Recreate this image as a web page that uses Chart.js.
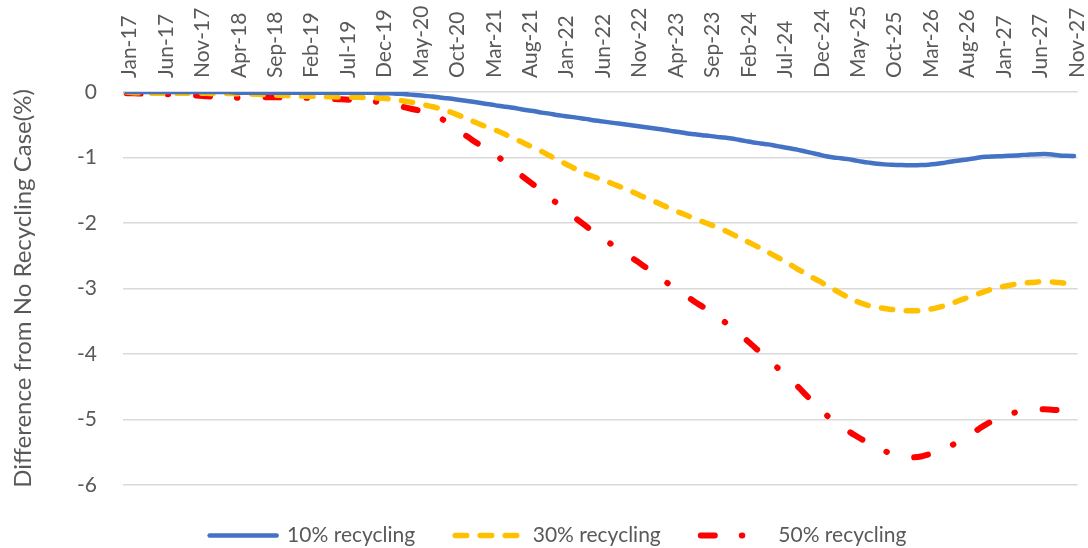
<!DOCTYPE html>
<html>
<head>
<meta charset="utf-8">
<script src="https://cdn.jsdelivr.net/npm/chart.js@4/dist/chart.umd.min.js"></script>
<style>
  html, body { margin: 0; padding: 0; background: #ffffff; }
  #c { display: block; }
</style>
</head>
<body>
<canvas id="c" width="1088" height="548"></canvas>
<script>
// Monthly categories, Jan-17 through Nov-27
const monthNames = ['Jan','Feb','Mar','Apr','May','Jun','Jul','Aug','Sep','Oct','Nov','Dec'];
const categories = [];
for (let k = 0; k < 131; k++) {
  const yy = 17 + Math.floor(k / 12);
  categories.push(monthNames[k % 12] + '-' + yy);
}
// every fifth month carries a tick label
const tickEvery = 5;

const yTicks = [0, -1, -2, -3, -4, -5, -6];

const recycling10 = [
  0, 0, 0, 0, 0, 0, 0, 0, 0, 0,
  0, 0, 0, 0, 0, -0.01, -0.01, -0.01, -0.01, -0.01,
  -0.01, -0.01, -0.01, -0.01, -0.01, -0.01, -0.01, -0.01, -0.01, -0.01,
  -0.01, -0.01, -0.01, -0.01, -0.015, -0.02, -0.02, -0.025, -0.03, -0.04,
  -0.05, -0.06, -0.07, -0.085, -0.096, -0.11, -0.125, -0.14, -0.157, -0.175,
  -0.19, -0.21, -0.225, -0.24, -0.26, -0.28, -0.295, -0.315, -0.33, -0.35,
  -0.365, -0.38, -0.395, -0.41, -0.43, -0.445, -0.46, -0.475, -0.49, -0.505,
  -0.52, -0.535, -0.55, -0.565, -0.58, -0.6, -0.615, -0.634, -0.645, -0.66,
  -0.67, -0.685, -0.695, -0.71, -0.73, -0.75, -0.77, -0.785, -0.8, -0.82,
  -0.84, -0.86, -0.88, -0.905, -0.93, -0.955, -0.98, -1.0, -1.01, -1.025,
  -1.045, -1.064, -1.08, -1.095, -1.105, -1.112, -1.115, -1.118, -1.118, -1.115,
  -1.11, -1.1, -1.085, -1.065, -1.05, -1.035, -1.02, -1.0, -0.99, -0.985,
  -0.98, -0.975, -0.97, -0.96, -0.955, -0.95, -0.947, -0.955, -0.97, -0.975,
  -0.977
];

const recycling30 = [
  0, -0.01, -0.015, -0.02, -0.02, -0.02, -0.02, -0.02, -0.02, -0.02,
  -0.02, -0.02, -0.022, -0.022, -0.024, -0.025, -0.025, -0.03, -0.035, -0.04,
  -0.045, -0.05, -0.055, -0.06, -0.062, -0.065, -0.068, -0.07, -0.072, -0.075,
  -0.077, -0.08, -0.082, -0.085, -0.09, -0.096, -0.105, -0.12, -0.137, -0.155,
  -0.175, -0.2, -0.225, -0.255, -0.29, -0.33, -0.375, -0.425, -0.47, -0.515,
  -0.555, -0.6, -0.65, -0.7, -0.753, -0.805, -0.86, -0.91, -0.97, -1.03,
  -1.085, -1.14, -1.2, -1.25, -1.29, -1.33, -1.37, -1.415, -1.46, -1.505,
  -1.555, -1.605, -1.65, -1.7, -1.75, -1.8, -1.845, -1.89, -1.935, -1.98,
  -2.02, -2.065, -2.11, -2.165, -2.22, -2.275, -2.33, -2.385, -2.445, -2.505,
  -2.565, -2.63, -2.7, -2.76, -2.825, -2.885, -2.95, -3.01, -3.075, -3.135,
  -3.19, -3.23, -3.265, -3.285, -3.305, -3.32, -3.335, -3.34, -3.34, -3.335,
  -3.32, -3.3, -3.27, -3.235, -3.195, -3.155, -3.115, -3.075, -3.035, -3.0,
  -2.975, -2.955, -2.935, -2.92, -2.91, -2.9, -2.895, -2.9, -2.91, -2.92,
  -2.935
];

const recycling50 = [
  -0.02, -0.02, -0.025, -0.028, -0.03, -0.033, -0.035, -0.04, -0.045, -0.05,
  -0.057, -0.065, -0.07, -0.078, -0.085, -0.087, -0.088, -0.085, -0.082, -0.08,
  -0.08, -0.082, -0.084, -0.086, -0.087, -0.09, -0.095, -0.1, -0.105, -0.11,
  -0.115, -0.12, -0.127, -0.133, -0.145, -0.16, -0.18, -0.205, -0.23, -0.255,
  -0.28, -0.315, -0.355, -0.395, -0.465, -0.545, -0.625, -0.7, -0.775, -0.845,
  -0.915, -0.99, -1.09, -1.175, -1.26, -1.345, -1.43, -1.52, -1.608, -1.695,
  -1.785, -1.87, -1.96, -2.045, -2.13, -2.21, -2.285, -2.36, -2.44, -2.51,
  -2.58, -2.66, -2.74, -2.82, -2.9, -2.98, -3.055, -3.13, -3.205, -3.275,
  -3.345, -3.42, -3.505, -3.59, -3.68, -3.78, -3.88, -3.98, -4.08, -4.18,
  -4.275, -4.375, -4.485, -4.6, -4.715, -4.825, -4.93, -5.025, -5.1, -5.175,
  -5.245, -5.31, -5.375, -5.43, -5.48, -5.525, -5.555, -5.57, -5.577, -5.565,
  -5.535, -5.5, -5.455, -5.405, -5.35, -5.285, -5.215, -5.14, -5.07, -5.015,
  -4.97, -4.925, -4.89, -4.865, -4.85, -4.845, -4.845, -4.85, -4.86, -4.87,
  -4.88
];

const seriesNames = ['10% recycling', '30% recycling', '50% recycling'];
const yTitle = 'Difference from No Recycling Case(%)';

const FONT = 'Lato, "Open Sans", sans-serif';
const TEXT = '#595959';
const GRID = '#d9d9d9';

// legend swatches take their stroke (dash, width, caps) from the dataset line itself
function legendLabels(chart) {
  const items = Chart.defaults.plugins.legend.labels.generateLabels(chart);
  return items.map(function (item) {
    const ds = chart.data.datasets[item.datasetIndex];
    item.pointStyle = 'line';
    item.strokeStyle = ds.borderColor;
    item.lineWidth = ds.borderWidth;
    item.lineDash = ds.borderDash || [];
    item.lineDashOffset = 0;
    item.lineCap = ds.borderCapStyle;
    item.fontColor = TEXT;
    return item;
  });
}

new Chart(document.getElementById('c'), {
  type: 'line',
  data: {
    labels: categories,
    datasets: [
      {
        label: seriesNames[0],
        data: recycling10,
        borderColor: '#4472C4',
        backgroundColor: '#4472C4',
        borderWidth: 4.5,
        borderCapStyle: 'round',
        borderJoinStyle: 'round',
        pointRadius: 0,
        tension: 0.3
      },
      {
        label: seriesNames[1],
        data: recycling30,
        borderColor: '#FFC000',
        backgroundColor: '#FFC000',
        borderWidth: 5.5,
        borderDash: [11.5, 13.5],
        borderCapStyle: 'round',
        borderJoinStyle: 'round',
        pointRadius: 0,
        tension: 0.3
      },
      {
        label: seriesNames[2],
        data: recycling50,
        borderColor: '#FF0000',
        backgroundColor: '#FF0000',
        borderWidth: 6,
        borderDash: [14, 27, 0.5, 28],
        borderCapStyle: 'round',
        borderJoinStyle: 'round',
        pointRadius: 0,
        tension: 0.3
      }
    ]
  },
  options: {
    responsive: false,
    animation: false,
    devicePixelRatio: 1,
    layout: { padding: { left: 30, right: 2, top: 0, bottom: 0 } },
    plugins: {
      tooltip: { enabled: false },
      legend: {
        position: 'bottom',
        maxHeight: 63,
        labels: {
          usePointStyle: true,
          pointStyle: 'line',
          pointStyleWidth: 67,
          padding: 40,
          color: TEXT,
          font: { family: FONT, size: 21 },
          generateLabels: legendLabels
        }
      }
    },
    scales: {
      x: {
        position: 'top',
        offset: true,
        grid: { display: false, drawTicks: false },
        border: { display: false },
        ticks: {
          autoSkip: false,
          maxRotation: 90,
          minRotation: 90,
          padding: 14,
          labelOffset: 28,
          color: TEXT,
          font: { family: FONT, size: 21 },
          callback: function (value, index) {
            return index % tickEvery === 0 ? categories[index] : '';
          }
        },
        afterFit: function (scale) { scale.height = 92; }
      },
      y: {
        min: yTicks[yTicks.length - 1],
        max: yTicks[0],
        afterBuildTicks: function (scale) {
          scale.ticks = yTicks.map(function (v) { return { value: v }; });
        },
        grid: { color: GRID, lineWidth: 1.5, drawTicks: false },
        border: { display: false },
        ticks: {
          padding: 26,
          color: TEXT,
          font: { family: FONT, size: 21 }
        },
        title: {
          display: true,
          text: yTitle,
          color: TEXT,
          font: { family: FONT, size: 24 },
          padding: { top: -21, bottom: 0 }
        },
        afterFit: function (scale) { scale.width = 93; }
      }
    }
  }
});
</script>
</body>
</html>
